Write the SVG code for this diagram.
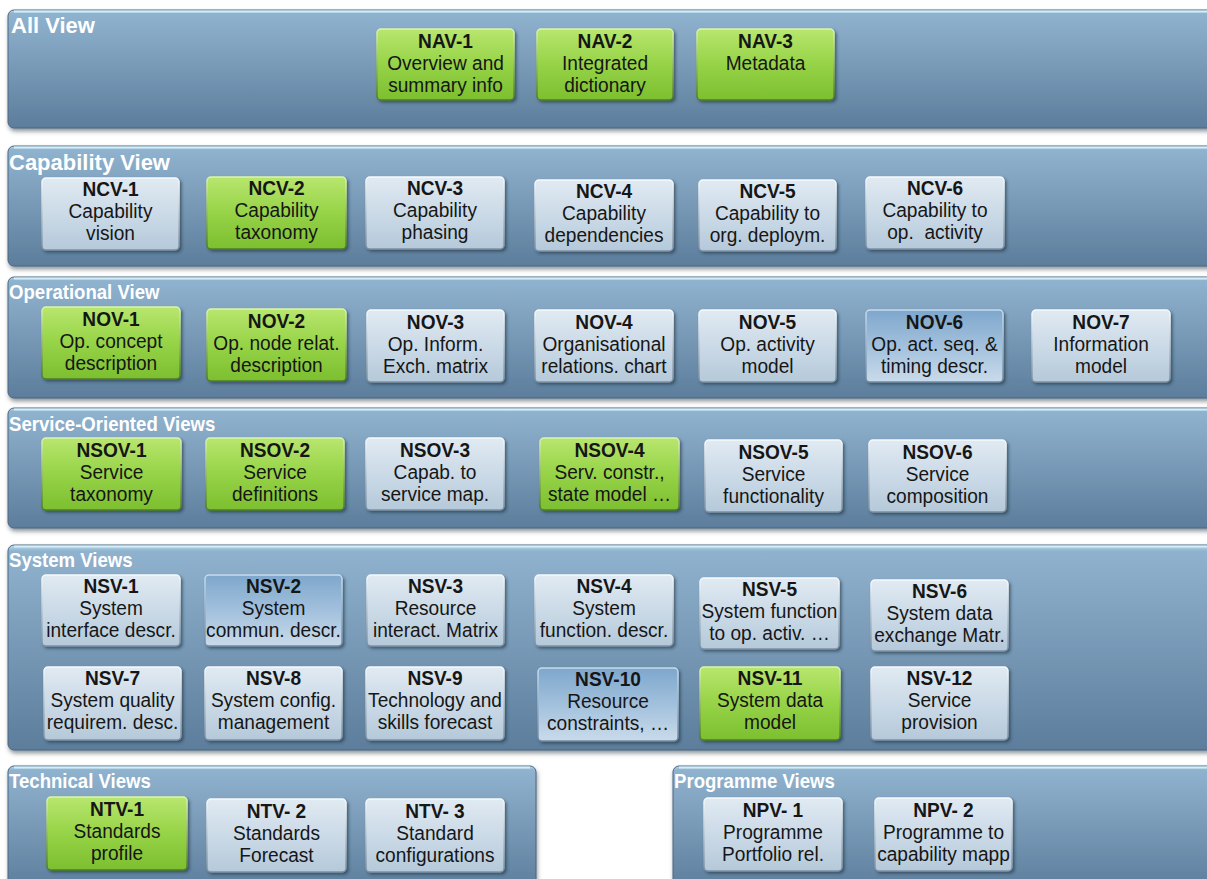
<svg xmlns="http://www.w3.org/2000/svg" width="1207" height="879" viewBox="0 0 1207 879">
  <defs>
    <linearGradient id="panelFill" x1="0" y1="0" x2="0" y2="1">
      <stop offset="0" stop-color="#b9dcec"/>
      <stop offset="0.03" stop-color="#8fb2ce"/>
      <stop offset="0.35" stop-color="#7fa1be"/>
      <stop offset="1" stop-color="#5c7d9b"/>
    </linearGradient>
    <linearGradient id="greenFill" x1="0" y1="0" x2="0" y2="1">
      <stop offset="0" stop-color="#b8e66e"/>
      <stop offset="0.5" stop-color="#96d347"/>
      <stop offset="1" stop-color="#7cbf30"/>
    </linearGradient>
    <linearGradient id="greenEdge" x1="0" y1="0" x2="0" y2="1">
      <stop offset="0" stop-color="#dcf5b0"/>
      <stop offset="1" stop-color="#4d7d22"/>
    </linearGradient>
    <linearGradient id="greyFill" x1="0" y1="0" x2="0" y2="1">
      <stop offset="0" stop-color="#e0eaf2"/>
      <stop offset="0.5" stop-color="#cbdae7"/>
      <stop offset="1" stop-color="#b5c9da"/>
    </linearGradient>
    <linearGradient id="greyEdge" x1="0" y1="0" x2="0" y2="1">
      <stop offset="0" stop-color="#f7fafc"/>
      <stop offset="1" stop-color="#7b90a3"/>
    </linearGradient>
    <linearGradient id="blueFill" x1="0" y1="0" x2="0" y2="1">
      <stop offset="0" stop-color="#7ea7cc"/>
      <stop offset="0.55" stop-color="#a6c3de"/>
      <stop offset="1" stop-color="#c9dbea"/>
    </linearGradient>
    <linearGradient id="blueEdge" x1="0" y1="0" x2="0" y2="1">
      <stop offset="0" stop-color="#c6dcee"/>
      <stop offset="1" stop-color="#6f8aa3"/>
    </linearGradient>
    <filter id="panelShadow" x="-2%" y="-10%" width="104%" height="125%">
      <feDropShadow dx="1" dy="3" stdDeviation="2" flood-color="#3a4652" flood-opacity="0.55"/>
    </filter>
    <filter id="boxShadow" x="-10%" y="-10%" width="125%" height="130%">
      <feDropShadow dx="2" dy="2" stdDeviation="1.5" flood-color="#24323f" flood-opacity="0.6"/>
    </filter>
  </defs>
  <style>
    .panel { fill: url(#panelFill); stroke: #4a6681; stroke-width: 1; filter: url(#panelShadow); }
    .gloss { stroke: #d3eef8; stroke-width: 2; fill: none; }
    .ptitle { font-family: "Liberation Sans", Arial, sans-serif; font-weight: bold; font-size: 20px; fill: #ffffff; }
    .ptitle.big { font-size: 22px; }
    .box { filter: url(#boxShadow); stroke-width: 1.5; }
    .green { fill: url(#greenFill); stroke: url(#greenEdge); }
    .grey { fill: url(#greyFill); stroke: url(#greyEdge); }
    .blue { fill: url(#blueFill); stroke: url(#blueEdge); }
    .lbl { font-family: "Liberation Sans", Arial, sans-serif; font-size: 21px; fill: #161616; text-anchor: middle; }
    .hd { font-weight: bold; }
    .pre { white-space: pre; }
  </style>

  <!-- view panels -->
  <g id="panels">
    <g id="all-view">
      <rect class="panel" x="8" y="10" width="1212" height="118" rx="6"/>
      <line class="gloss" x1="14" y1="11.5" x2="1207" y2="11.5"/>
      <text class="ptitle big" x="11" y="33">All View</text>
    </g>
    <g id="capability-view">
      <rect class="panel" x="8" y="146" width="1212" height="120" rx="6"/>
      <line class="gloss" x1="14" y1="147.5" x2="1207" y2="147.5"/>
      <text class="ptitle big" x="9" y="170">Capability View</text>
    </g>
    <g id="operational-view">
      <rect class="panel" x="8" y="277" width="1212" height="121" rx="6"/>
      <line class="gloss" x1="14" y1="278.5" x2="1207" y2="278.5"/>
      <text class="ptitle" transform="translate(9,299) scale(0.93,1)">Operational View</text>
    </g>
    <g id="service-oriented-views">
      <rect class="panel" x="8" y="408" width="1212" height="120" rx="6"/>
      <line class="gloss" x1="14" y1="409.5" x2="1207" y2="409.5"/>
      <text class="ptitle" transform="translate(9,431) scale(0.93,1)">Service-Oriented Views</text>
    </g>
    <g id="system-views">
      <rect class="panel" x="8" y="545" width="1212" height="205" rx="6"/>
      <line class="gloss" x1="14" y1="546.5" x2="1207" y2="546.5"/>
      <text class="ptitle" transform="translate(9,567) scale(0.93,1)">System Views</text>
    </g>
    <g id="technical-views">
      <rect class="panel" x="8" y="766" width="528" height="125" rx="6"/>
      <line class="gloss" x1="14" y1="767.5" x2="530" y2="767.5"/>
      <text class="ptitle" transform="translate(9,788) scale(0.93,1)">Technical Views</text>
    </g>
    <g id="programme-views">
      <rect class="panel" x="673" y="766" width="545" height="125" rx="6"/>
      <line class="gloss" x1="679" y1="767.5" x2="1207" y2="767.5"/>
      <text class="ptitle" transform="translate(674,788) scale(0.93,1)">Programme Views</text>
    </g>
  </g>

  <!-- no links between the views -->
  <g id="connectors"/>

  <!-- All View -->
  <g id="nav-1" transform="translate(377,29)">
    <rect class="box green" width="137" height="71" rx="4"/>
    <text class="lbl" transform="translate(68.5,0) scale(0.91,1)"><tspan class="hd" x="0" y="19">NAV-1</tspan><tspan x="0" y="41">Overview and</tspan><tspan x="0" y="63">summary info</tspan></text>
  </g>
  <g id="nav-2" transform="translate(537,29)">
    <rect class="box green" width="136" height="71" rx="4"/>
    <text class="lbl" transform="translate(68,0) scale(0.91,1)"><tspan class="hd" x="0" y="19">NAV-2</tspan><tspan x="0" y="41">Integrated</tspan><tspan x="0" y="63">dictionary</tspan></text>
  </g>
  <g id="nav-3" transform="translate(697,29)">
    <rect class="box green" width="137" height="71" rx="4"/>
    <text class="lbl" transform="translate(68.5,0) scale(0.91,1)"><tspan class="hd" x="0" y="19">NAV-3</tspan><tspan x="0" y="41">Metadata</tspan></text>
  </g>

  <!-- Capability View -->
  <g id="ncv-1" transform="translate(42,178)">
    <rect class="box grey" width="137" height="72" rx="4"/>
    <text class="lbl" transform="translate(68.5,0) scale(0.91,1)"><tspan class="hd" x="0" y="18">NCV-1</tspan><tspan x="0" y="40">Capability</tspan><tspan x="0" y="62">vision</tspan></text>
  </g>
  <g id="ncv-2" transform="translate(207,177)">
    <rect class="box green" width="139" height="72" rx="4"/>
    <text class="lbl" transform="translate(69.5,0) scale(0.91,1)"><tspan class="hd" x="0" y="18">NCV-2</tspan><tspan x="0" y="40">Capability</tspan><tspan x="0" y="62">taxonomy</tspan></text>
  </g>
  <g id="ncv-3" transform="translate(366,177)">
    <rect class="box grey" width="138" height="72" rx="4"/>
    <text class="lbl" transform="translate(69,0) scale(0.91,1)"><tspan class="hd" x="0" y="18">NCV-3</tspan><tspan x="0" y="40">Capability</tspan><tspan x="0" y="62">phasing</tspan></text>
  </g>
  <g id="ncv-4" transform="translate(535,180)">
    <rect class="box grey" width="138" height="71" rx="4"/>
    <text class="lbl" transform="translate(69,0) scale(0.91,1)"><tspan class="hd" x="0" y="18">NCV-4</tspan><tspan x="0" y="40">Capability</tspan><tspan x="0" y="62">dependencies</tspan></text>
  </g>
  <g id="ncv-5" transform="translate(699,180)">
    <rect class="box grey" width="137" height="71" rx="4"/>
    <text class="lbl" transform="translate(68.5,0) scale(0.91,1)"><tspan class="hd" x="0" y="18">NCV-5</tspan><tspan x="0" y="40">Capability to</tspan><tspan x="0" y="62">org. deploym.</tspan></text>
  </g>
  <g id="ncv-6" transform="translate(866,177)">
    <rect class="box grey" width="138" height="72" rx="4"/>
    <text class="lbl" transform="translate(69,0) scale(0.91,1)"><tspan class="hd" x="0" y="18">NCV-6</tspan><tspan x="0" y="40">Capability to</tspan><tspan class="pre" x="0" y="62">op.  activity</tspan></text>
  </g>

  <!-- Operational View -->
  <g id="nov-1" transform="translate(42,307)">
    <rect class="box green" width="138" height="72" rx="4"/>
    <text class="lbl" transform="translate(69,0) scale(0.91,1)"><tspan class="hd" x="0" y="19">NOV-1</tspan><tspan x="0" y="41">Op. concept</tspan><tspan x="0" y="63">description</tspan></text>
  </g>
  <g id="nov-2" transform="translate(207,309)">
    <rect class="box green" width="139" height="72" rx="4"/>
    <text class="lbl" transform="translate(69.5,0) scale(0.91,1)"><tspan class="hd" x="0" y="19">NOV-2</tspan><tspan x="0" y="41">Op. node relat.</tspan><tspan x="0" y="63">description</tspan></text>
  </g>
  <g id="nov-3" transform="translate(367,310)">
    <rect class="box grey" width="137" height="72" rx="4"/>
    <text class="lbl" transform="translate(68.5,0) scale(0.91,1)"><tspan class="hd" x="0" y="19">NOV-3</tspan><tspan x="0" y="41">Op. Inform.</tspan><tspan x="0" y="63">Exch. matrix</tspan></text>
  </g>
  <g id="nov-4" transform="translate(535,310)">
    <rect class="box grey" width="138" height="72" rx="4"/>
    <text class="lbl" transform="translate(69,0) scale(0.91,1)"><tspan class="hd" x="0" y="19">NOV-4</tspan><tspan x="0" y="41">Organisational</tspan><tspan x="0" y="63">relations. chart</tspan></text>
  </g>
  <g id="nov-5" transform="translate(699,310)">
    <rect class="box grey" width="137" height="72" rx="4"/>
    <text class="lbl" transform="translate(68.5,0) scale(0.91,1)"><tspan class="hd" x="0" y="19">NOV-5</tspan><tspan x="0" y="41">Op. activity</tspan><tspan x="0" y="63">model</tspan></text>
  </g>
  <g id="nov-6" transform="translate(866,310)">
    <rect class="box blue" width="137" height="72" rx="4"/>
    <text class="lbl" transform="translate(68.5,0) scale(0.91,1)"><tspan class="hd" x="0" y="19">NOV-6</tspan><tspan x="0" y="41">Op. act. seq. &amp;</tspan><tspan x="0" y="63">timing descr.</tspan></text>
  </g>
  <g id="nov-7" transform="translate(1032,310)">
    <rect class="box grey" width="138" height="72" rx="4"/>
    <text class="lbl" transform="translate(69,0) scale(0.91,1)"><tspan class="hd" x="0" y="19">NOV-7</tspan><tspan x="0" y="41">Information</tspan><tspan x="0" y="63">model</tspan></text>
  </g>

  <!-- Service-Oriented Views -->
  <g id="nsov-1" transform="translate(42,438)">
    <rect class="box green" width="139" height="72" rx="4"/>
    <text class="lbl" transform="translate(69.5,0) scale(0.91,1)"><tspan class="hd" x="0" y="19">NSOV-1</tspan><tspan x="0" y="41">Service</tspan><tspan x="0" y="63">taxonomy</tspan></text>
  </g>
  <g id="nsov-2" transform="translate(206,438)">
    <rect class="box green" width="138" height="72" rx="4"/>
    <text class="lbl" transform="translate(69,0) scale(0.91,1)"><tspan class="hd" x="0" y="19">NSOV-2</tspan><tspan x="0" y="41">Service</tspan><tspan x="0" y="63">definitions</tspan></text>
  </g>
  <g id="nsov-3" transform="translate(366,438)">
    <rect class="box grey" width="138" height="72" rx="4"/>
    <text class="lbl" transform="translate(69,0) scale(0.91,1)"><tspan class="hd" x="0" y="19">NSOV-3</tspan><tspan x="0" y="41">Capab. to</tspan><tspan x="0" y="63">service map.</tspan></text>
  </g>
  <g id="nsov-4" transform="translate(540,438)">
    <rect class="box green" width="139" height="72" rx="4"/>
    <text class="lbl" transform="translate(69.5,0) scale(0.91,1)"><tspan class="hd" x="0" y="19">NSOV-4</tspan><tspan x="0" y="41">Serv. constr.,</tspan><tspan x="0" y="63">state model …</tspan></text>
  </g>
  <g id="nsov-5" transform="translate(705,440)">
    <rect class="box grey" width="137" height="72" rx="4"/>
    <text class="lbl" transform="translate(68.5,0) scale(0.91,1)"><tspan class="hd" x="0" y="19">NSOV-5</tspan><tspan x="0" y="41">Service</tspan><tspan x="0" y="63">functionality</tspan></text>
  </g>
  <g id="nsov-6" transform="translate(869,440)">
    <rect class="box grey" width="137" height="72" rx="4"/>
    <text class="lbl" transform="translate(68.5,0) scale(0.91,1)"><tspan class="hd" x="0" y="19">NSOV-6</tspan><tspan x="0" y="41">Service</tspan><tspan x="0" y="63">composition</tspan></text>
  </g>

  <!-- System Views, first row -->
  <g id="nsv-1" transform="translate(42,575)">
    <rect class="box grey" width="138" height="71" rx="4"/>
    <text class="lbl" transform="translate(69,0) scale(0.91,1)"><tspan class="hd" x="0" y="18">NSV-1</tspan><tspan x="0" y="40">System</tspan><tspan x="0" y="62">interface descr.</tspan></text>
  </g>
  <g id="nsv-2" transform="translate(205,575)">
    <rect class="box blue" width="137" height="71" rx="4"/>
    <text class="lbl" transform="translate(68.5,0) scale(0.91,1)"><tspan class="hd" x="0" y="18">NSV-2</tspan><tspan x="0" y="40">System</tspan><tspan x="0" y="62">commun. descr.</tspan></text>
  </g>
  <g id="nsv-3" transform="translate(367,575)">
    <rect class="box grey" width="137" height="71" rx="4"/>
    <text class="lbl" transform="translate(68.5,0) scale(0.91,1)"><tspan class="hd" x="0" y="18">NSV-3</tspan><tspan x="0" y="40">Resource</tspan><tspan x="0" y="62">interact. Matrix</tspan></text>
  </g>
  <g id="nsv-4" transform="translate(535,575)">
    <rect class="box grey" width="138" height="71" rx="4"/>
    <text class="lbl" transform="translate(69,0) scale(0.91,1)"><tspan class="hd" x="0" y="18">NSV-4</tspan><tspan x="0" y="40">System</tspan><tspan x="0" y="62">function. descr.</tspan></text>
  </g>
  <g id="nsv-5" transform="translate(700,578)">
    <rect class="box grey" width="139" height="71" rx="4"/>
    <text class="lbl" transform="translate(69.5,0) scale(0.91,1)"><tspan class="hd" x="0" y="18">NSV-5</tspan><tspan x="0" y="40">System function</tspan><tspan x="0" y="62">to op. activ. …</tspan></text>
  </g>
  <g id="nsv-6" transform="translate(871,580)">
    <rect class="box grey" width="137" height="71" rx="4"/>
    <text class="lbl" transform="translate(68.5,0) scale(0.91,1)"><tspan class="hd" x="0" y="18">NSV-6</tspan><tspan x="0" y="40">System data</tspan><tspan x="0" y="62">exchange Matr.</tspan></text>
  </g>

  <!-- System Views, second row -->
  <g id="nsv-7" transform="translate(44,667)">
    <rect class="box grey" width="137" height="73" rx="4"/>
    <text class="lbl" transform="translate(68.5,0) scale(0.91,1)"><tspan class="hd" x="0" y="18">NSV-7</tspan><tspan x="0" y="40">System quality</tspan><tspan x="0" y="62">requirem. desc.</tspan></text>
  </g>
  <g id="nsv-8" transform="translate(205,667)">
    <rect class="box grey" width="137" height="73" rx="4"/>
    <text class="lbl" transform="translate(68.5,0) scale(0.91,1)"><tspan class="hd" x="0" y="18">NSV-8</tspan><tspan x="0" y="40">System config.</tspan><tspan x="0" y="62">management</tspan></text>
  </g>
  <g id="nsv-9" transform="translate(366,667)">
    <rect class="box grey" width="138" height="73" rx="4"/>
    <text class="lbl" transform="translate(69,0) scale(0.91,1)"><tspan class="hd" x="0" y="18">NSV-9</tspan><tspan x="0" y="40">Technology and</tspan><tspan x="0" y="62">skills forecast</tspan></text>
  </g>
  <g id="nsv-10" transform="translate(538,668)">
    <rect class="box blue" width="140" height="73" rx="4"/>
    <text class="lbl" transform="translate(70,0) scale(0.91,1)"><tspan class="hd" x="0" y="18">NSV-10</tspan><tspan x="0" y="40">Resource</tspan><tspan x="0" y="62">constraints, …</tspan></text>
  </g>
  <g id="nsv-11" transform="translate(700,667)">
    <rect class="box green" width="140" height="73" rx="4"/>
    <text class="lbl" transform="translate(70,0) scale(0.91,1)"><tspan class="hd" x="0" y="18">NSV-11</tspan><tspan x="0" y="40">System data</tspan><tspan x="0" y="62">model</tspan></text>
  </g>
  <g id="nsv-12" transform="translate(871,667)">
    <rect class="box grey" width="137" height="73" rx="4"/>
    <text class="lbl" transform="translate(68.5,0) scale(0.91,1)"><tspan class="hd" x="0" y="18">NSV-12</tspan><tspan x="0" y="40">Service</tspan><tspan x="0" y="62">provision</tspan></text>
  </g>

  <!-- Technical Views -->
  <g id="ntv-1" transform="translate(47,797)">
    <rect class="box green" width="140" height="73" rx="4"/>
    <text class="lbl" transform="translate(70,0) scale(0.91,1)"><tspan class="hd" x="0" y="19">NTV-1</tspan><tspan x="0" y="41">Standards</tspan><tspan x="0" y="63">profile</tspan></text>
  </g>
  <g id="ntv-2" transform="translate(207,799)">
    <rect class="box grey" width="139" height="73" rx="4"/>
    <text class="lbl" transform="translate(69.5,0) scale(0.91,1)"><tspan class="hd" x="0" y="19">NTV- 2</tspan><tspan x="0" y="41">Standards</tspan><tspan x="0" y="63">Forecast</tspan></text>
  </g>
  <g id="ntv-3" transform="translate(366,799)">
    <rect class="box grey" width="138" height="73" rx="4"/>
    <text class="lbl" transform="translate(69,0) scale(0.91,1)"><tspan class="hd" x="0" y="19">NTV- 3</tspan><tspan x="0" y="41">Standard</tspan><tspan x="0" y="63">configurations</tspan></text>
  </g>

  <!-- Programme Views -->
  <g id="npv-1" transform="translate(704,798)">
    <rect class="box grey" width="138" height="73" rx="4"/>
    <text class="lbl" transform="translate(69,0) scale(0.91,1)"><tspan class="hd" x="0" y="19">NPV- 1</tspan><tspan x="0" y="41">Programme</tspan><tspan x="0" y="63">Portfolio rel.</tspan></text>
  </g>
  <g id="npv-2" transform="translate(875,798)">
    <rect class="box grey" width="137" height="73" rx="4"/>
    <text class="lbl" transform="translate(68.5,0) scale(0.91,1)"><tspan class="hd" x="0" y="19">NPV- 2</tspan><tspan x="0" y="41">Programme to</tspan><tspan x="0" y="63">capability mapp</tspan></text>
  </g>
</svg>
